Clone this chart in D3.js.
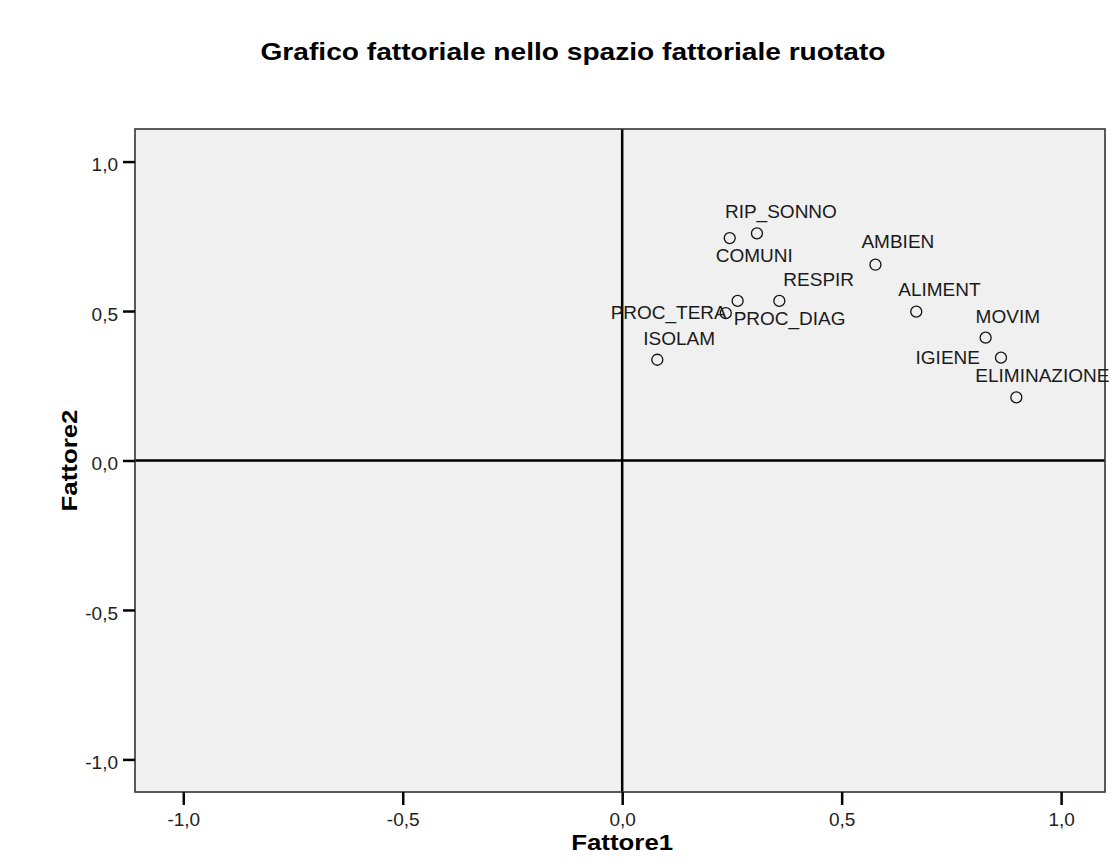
<!DOCTYPE html>
<html>
<head>
<meta charset="utf-8">
<script src="https://d3js.org/d3.v7.min.js"></script>
<style>
  body { margin: 0; background: #fff; }
  text { font-family: "Liberation Sans", Arial, sans-serif; }
</style>
</head>
<body>
<div id="chart"></div>
<script>
// rotated factor loadings
const variables = ["RIP_SONNO", "COMUNI", "RESPIR", "PROC_DIAG", "PROC_TERA", "ISOLAM",
                   "AMBIEN", "ALIMENT", "MOVIM", "IGIENE", "ELIMINAZIONE"];
const fattore1 = [0.307, 0.245, 0.358, 0.263, 0.236, 0.080, 0.577, 0.670, 0.828, 0.863, 0.898];
const fattore2 = [0.760, 0.744, 0.534, 0.534, 0.493, 0.337, 0.655, 0.498, 0.411, 0.344, 0.211];
const tickValues = [-1, -0.5, 0, 0.5, 1];

// label placement relative to its point: dx, dy, anchor
const labelPos = {
  RIP_SONNO: [-32, -15, "start"], COMUNI: [-14, 24, "start"], RESPIR: [4, -15, "start"],
  PROC_DIAG: [-4, 24, "start"], PROC_TERA: [1, 6, "end"], ISOLAM: [-14, -15, "start"],
  AMBIEN: [-14, -17, "start"], ALIMENT: [-18, -16, "start"], MOVIM: [-10, -15, "start"],
  IGIENE: [-21, 6, "end"], ELIMINAZIONE: [-41, -15, "start"]
};

const W = 1113, H = 862;
const plot = { left: 135, right: 1105, top: 129, bottom: 792 };

const svg = d3.select("#chart").append("svg")
  .attr("width", W).attr("height", H);

const x = d3.scaleLinear().domain([-1.11, 1.10]).range([plot.left, plot.right]);
const y = d3.scaleLinear().domain([-1.109, 1.109]).range([plot.bottom, plot.top]);
const fmt = d => d3.format(".1f")(d).replace(".", ",").replace("−", "-");

// title (SPSS renders it wide)
svg.append("text")
  .attr("x", 573).attr("y", 60)
  .attr("text-anchor", "middle")
  .attr("textLength", 625).attr("lengthAdjust", "spacingAndGlyphs")
  .style("font-size", "24px").style("font-weight", "bold")
  .attr("fill", "#000")
  .text("Grafico fattoriale nello spazio fattoriale ruotato");

// plot background
svg.append("rect")
  .attr("x", plot.left).attr("y", plot.top)
  .attr("width", plot.right - plot.left).attr("height", plot.bottom - plot.top)
  .attr("fill", "#f0f0f0");

// reference lines at 0
svg.append("line")
  .attr("x1", x(0)).attr("x2", x(0)).attr("y1", plot.top).attr("y2", plot.bottom)
  .attr("stroke", "#000").attr("stroke-width", 2.5);
svg.append("line")
  .attr("x1", plot.left).attr("x2", plot.right).attr("y1", y(0)).attr("y2", y(0))
  .attr("stroke", "#000").attr("stroke-width", 2.5);

// border
svg.append("rect")
  .attr("x", plot.left).attr("y", plot.top)
  .attr("width", plot.right - plot.left).attr("height", plot.bottom - plot.top)
  .attr("fill", "none").attr("stroke", "#333").attr("stroke-width", 1.6);

// axes
const yAxis = svg.append("g")
  .attr("transform", `translate(${plot.left},0)`)
  .call(d3.axisLeft(y).tickValues(tickValues).tickFormat(fmt).tickSize(12).tickPadding(5));
const xAxis = svg.append("g")
  .attr("transform", `translate(0,${plot.bottom})`)
  .call(d3.axisBottom(x).tickValues(tickValues).tickFormat(fmt).tickSize(13).tickPadding(8));

[xAxis, yAxis].forEach(g => {
  g.select(".domain").remove();
  g.selectAll(".tick line").attr("stroke", "#000").attr("stroke-width", 2.5);
  g.selectAll(".tick text")
    .attr("fill", "#222")
    .style("font-size", "19px")
    .style("font-family", "'Liberation Sans', Arial, sans-serif");
});
yAxis.selectAll(".tick text").attr("dy", "0.48em");

// axis titles
svg.append("text")
  .attr("x", x(0)).attr("y", 850)
  .attr("text-anchor", "middle")
  .attr("textLength", 102).attr("lengthAdjust", "spacingAndGlyphs")
  .style("font-size", "22px").style("font-weight", "bold")
  .text("Fattore1");
svg.append("text")
  .attr("transform", `translate(77,${y(0)}) rotate(-90)`)
  .attr("text-anchor", "middle")
  .attr("textLength", 102).attr("lengthAdjust", "spacingAndGlyphs")
  .style("font-size", "22px").style("font-weight", "bold")
  .text("Fattore2");

// points
const pts = variables.map((v, i) => ({ name: v, f1: fattore1[i], f2: fattore2[i] }));

svg.append("g").selectAll("circle")
  .data(pts).join("circle")
  .attr("cx", d => x(d.f1)).attr("cy", d => y(d.f2))
  .attr("r", 5.5)
  .attr("fill", "none").attr("stroke", "#111").attr("stroke-width", 1.3);

svg.append("g").selectAll("text")
  .data(pts).join("text")
  .attr("x", d => x(d.f1) + labelPos[d.name][0])
  .attr("y", d => y(d.f2) + labelPos[d.name][1])
  .attr("text-anchor", d => labelPos[d.name][2])
  .style("font-size", "19px")
  .attr("fill", "#1a1a1a")
  .text(d => d.name);
</script>
</body>
</html>
